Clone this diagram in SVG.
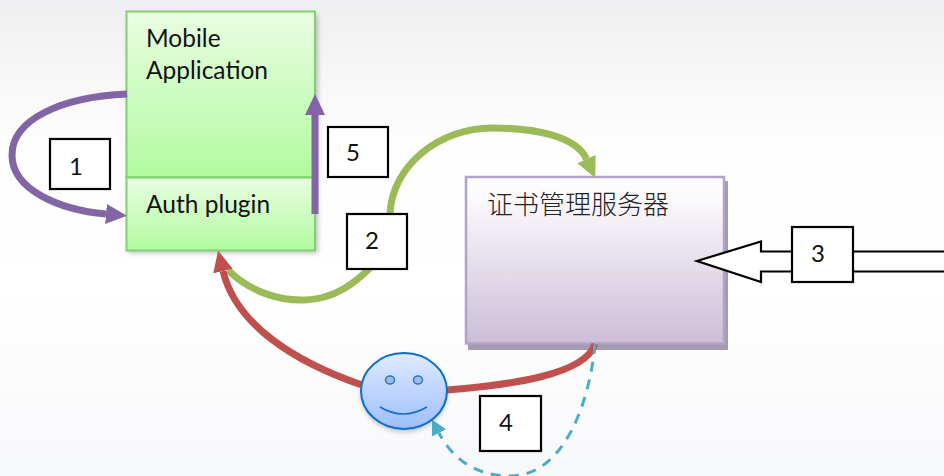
<svg xmlns="http://www.w3.org/2000/svg" width="944" height="476" viewBox="0 0 944 476">
<style>
.t{font-family:"Lato","Open Sans","Noto Sans",sans-serif;font-size:24.500px;fill:#111}
.n{font-family:"Lato","Open Sans","Noto Sans",sans-serif;font-size:24px;fill:#111;text-anchor:middle}
.c{fill:none;stroke-linecap:butt}
.lb{fill:#fff;stroke:#000;stroke-width:2.200}
.gr{fill:url(#g);stroke:#7fd36e;stroke-width:2}
</style>
<defs>
<linearGradient id="bg" x1="0" y1="0" x2="0" y2="1"><stop offset="0" stop-color="#efeff1"/><stop offset=".28" stop-color="#fdfdfd"/><stop offset=".6" stop-color="#ffffff"/><stop offset="1" stop-color="#f7f8fa"/></linearGradient>
<linearGradient id="g" x1="0" y1="0" x2="0" y2="1"><stop offset="0" stop-color="#eafde2"/><stop offset="1" stop-color="#b1fb9f"/></linearGradient>
<linearGradient id="p" x1="0" y1="0" x2="0" y2="1"><stop offset="0" stop-color="#ffffff"/><stop offset=".12" stop-color="#fbfafc"/><stop offset="1" stop-color="#ccbdd8"/></linearGradient>
<linearGradient id="b" x1="0" y1="0" x2="0" y2="1"><stop offset="0" stop-color="#e0ebff"/><stop offset="1" stop-color="#9dbefc"/></linearGradient>
<filter id="s" x="-10%" y="-10%" width="120%" height="120%"><feGaussianBlur stdDeviation="2.500"/></filter>
<marker id="mp" markerUnits="userSpaceOnUse" markerWidth="24" markerHeight="24" refX="0" refY="10" orient="auto"><path d="M0 0L21 10L0 20Z" fill="#8364a4"/></marker>
<marker id="mg" markerUnits="userSpaceOnUse" markerWidth="24" markerHeight="24" refX="0" refY="10" orient="auto"><path d="M0 0L21 10L0 20Z" fill="#9bbb59"/></marker>
<marker id="mr" markerUnits="userSpaceOnUse" markerWidth="24" markerHeight="24" refX="0" refY="10" orient="auto"><path d="M0 0L21 10L0 20Z" fill="#c0504d"/></marker>
<marker id="mt" markerUnits="userSpaceOnUse" markerWidth="20" markerHeight="20" refX="0" refY="8" orient="auto"><path d="M0 0L15 8L0 16Z" fill="#4bacc6"/></marker>
</defs>
<rect id="background" width="944" height="476" fill="url(#bg)"/>

<g id="mobile-app">
<rect x="128" y="15" width="190" height="238" fill="#8a8a8a" opacity=".55" filter="url(#s)"/>
<rect class="gr" x="126.500" y="11.500" width="188.500" height="166"/>
<text class="t" x="146" y="47">Mobile</text>
<text class="t" x="146" y="79">Application</text>
</g>
<g id="auth-plugin">
<rect class="gr" x="126.500" y="177.500" width="188.500" height="73"/>
<text class="t" x="146" y="213">Auth plugin</text>
</g>
<g id="server">
<rect x="468" y="181" width="260" height="169" fill="#a59bb0"/>
<rect x="466" y="177" width="258" height="166.500" fill="url(#p)" stroke="#b3a2ca" stroke-width="2.500"/>
<text x="487" y="214" font-family="'Noto Sans CJK SC',sans-serif" font-weight="300" font-size="26" fill="#222">证书管理服务器</text>
</g>

<g id="connectors">
<path class="c" d="M127 94C60 97 12 120 12 155C12 190 60 210 106 214" stroke="#8364a4" stroke-width="7" marker-end="url(#mp)"/>
<path class="c" d="M315 214V115" stroke="#8364a4" stroke-width="7" marker-end="url(#mp)"/>
<path class="c" d="M228 270C250 292 280 301 305 300C335 299 355 283 372 266" stroke="#9bbb59" stroke-width="7"/>
<path class="c" d="M390 214C392 165 440 128 492 128C535 128 576 136 586.500 159" stroke="#9bbb59" stroke-width="7" marker-end="url(#mg)"/>
<path class="c" d="M595 344C585 375 510 385 447 390" stroke="#c0504d" stroke-width="7"/>
<path class="c" d="M362 385C295 362 236 325 223 271" stroke="#c0504d" stroke-width="7" marker-end="url(#mr)"/>
<path class="c" d="M595 344C590 400 565 476 510 476C475 476 452 458 439 433" stroke="#4bacc6" stroke-width="3" stroke-dasharray="10 8" marker-end="url(#mt)"/>
<path d="M697 261L761 241.500V251.500H950V271.500H761V282Z" fill="#fff" stroke="#000" stroke-width="2.200"/>
</g>

<g id="user">
<ellipse cx="404" cy="394" rx="43" ry="38" fill="#777" opacity=".45" filter="url(#s)"/>
<ellipse cx="404" cy="391" rx="43" ry="38" fill="url(#b)" stroke="#0f6fc6" stroke-width="2"/>
<ellipse cx="390" cy="380" rx="4.500" ry="4" fill="#9dbae8" stroke="#2f78c4" stroke-width="1.500"/>
<ellipse cx="418" cy="380" rx="4.500" ry="4" fill="#9dbae8" stroke="#2f78c4" stroke-width="1.500"/>
<path d="M380 407Q403 421 427 407" fill="none" stroke="#0f6fc6" stroke-width="1.500"/>
</g>

<g id="label-1"><rect class="lb" x="50" y="139" width="60" height="50"/><text class="n" x="76" y="175">1</text></g>
<g id="label-5"><rect class="lb" x="328" y="127" width="60" height="50"/><text class="n" x="353" y="161">5</text></g>
<g id="label-2"><rect class="lb" x="347" y="214" width="60" height="55"/><text class="n" x="372" y="249">2</text></g>
<g id="label-3"><rect class="lb" x="792" y="227" width="61" height="55"/><text class="n" x="818" y="262">3</text></g>
<g id="label-4"><rect class="lb" x="480" y="396" width="61" height="55"/><text class="n" x="506" y="431">4</text></g>
</svg>
